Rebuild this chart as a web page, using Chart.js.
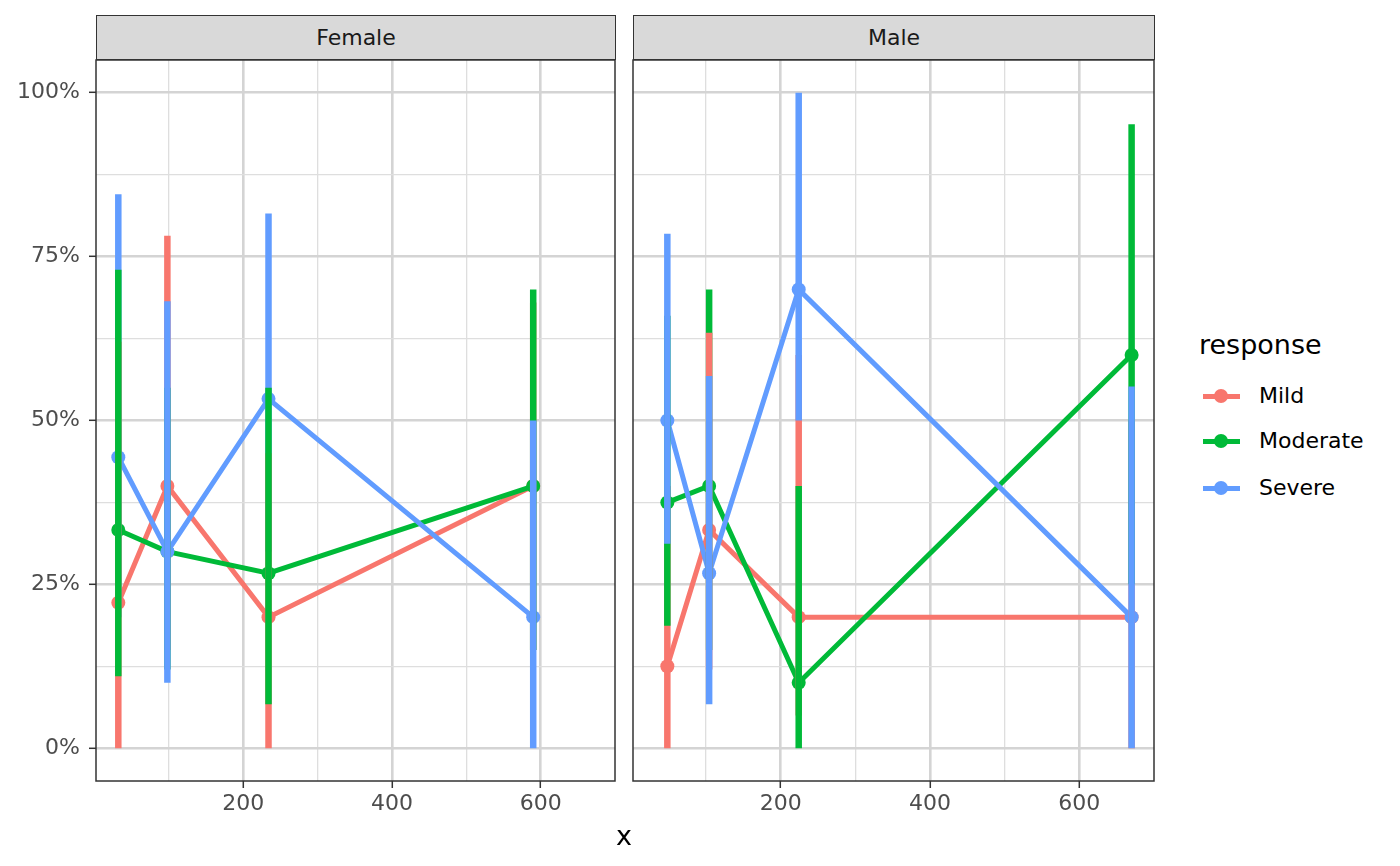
<!DOCTYPE html>
<html>
<head>
<meta charset="utf-8">
<script src="https://cdn.jsdelivr.net/npm/chart.js@4.4.1/dist/chart.umd.min.js"></script>
<style>
  body { margin: 0; background: #fff; font-family: "DejaVu Sans", sans-serif; }
  #wrap { position: relative; width: 1400px; height: 866px; overflow: hidden; }
  canvas { position: absolute; top: 0; }
  .strip { position: absolute; top: 15px; height: 45px; line-height: 44px; background: #d9d9d9;
    border: 1.5px solid #333; box-sizing: border-box; text-align: center; font-size: 22px; color: #1a1a1a; }
  .abs { position: absolute; white-space: nowrap; }
</style>
</head>
<body>
<div id="wrap">
  <canvas id="female" width="625" height="866" style="left:0px"></canvas>
  <canvas id="male" width="540" height="866" style="left:625px"></canvas>
  <div class="strip" style="left:96px; width:520px;">Female</div>
  <div class="strip" style="left:633px; width:522px;">Male</div>
  <div class="abs" style="left:604px; width:40px; text-align:center; top:818px; font-size:27px; line-height:36px; color:#000;">x</div>
  <div id="legend"></div>
</div>
<script>
// groups
const seriesNames = ["Mild", "Moderate", "Severe"];
const seriesColors = ["#F8766D", "#00BA38", "#619CFF"];

// Female facet
const femaleX = [32, 98, 234, 590];
const femaleMild = [22.2, 40, 20, 40];
const femaleModerate = [33.3, 30, 26.7, 40];
const femaleSevere = [44.4, 30, 53.3, 20];
const femaleMildLo = [0, 15, 0, 15];
const femaleMildHi = [62, 78.2, 45, 68];
const femaleModerateLo = [11, 12, 6.7, 15];
const femaleModerateHi = [73, 55, 55, 70];
const femaleSevereLo = [20, 10, 30, 0];
const femaleSevereHi = [84.5, 68.2, 81.6, 50];
// which range is drawn over which (bottom -> top) at each x
const femaleBarOrder = [
  ["Severe", "Mild", "Moderate"],
  ["Mild", "Moderate", "Severe"],
  ["Severe", "Mild", "Moderate"],
  ["Mild", "Moderate", "Severe"]
];

// Male facet
const maleX = [48, 104, 224, 670];
const maleMild = [12.5, 33.3, 20, 20];
const maleModerate = [37.5, 40, 10, 60];
const maleSevere = [50, 26.7, 70, 20];
const maleMildLo = [0, 12, 5, 0];
const maleMildHi = [40, 63.4, 60, 50];
const maleModerateLo = [18.7, 15, 0, 25];
const maleModerateHi = [66, 70, 40, 95.2];
const maleSevereLo = [31.2, 6.7, 50, 0];
const maleSevereHi = [78.5, 56.8, 100, 55.2];
const maleBarOrder = [
  ["Mild", "Moderate", "Severe"],
  ["Moderate", "Mild", "Severe"],
  ["Mild", "Moderate", "Severe"],
  ["Mild", "Moderate", "Severe"]
];

// axes
const xTickValues = [100, 200, 300, 400, 500, 600];
const yTickValues = [0, 12.5, 25, 37.5, 50, 62.5, 75, 87.5, 100];

const majorGrid = "#d4d4d4";
const minorGrid = "#dedede";
const tickFont = { family: "DejaVu Sans", size: 22 };

const panelBorder = {
  id: "panelBorder",
  afterDraw(chart) {
    const a = chart.chartArea;
    const c = chart.ctx;
    c.save();
    c.strokeStyle = "#333";
    c.lineWidth = 1.5;
    c.strokeRect(a.left, a.top, a.right - a.left, a.bottom - a.top);
    c.restore();
  }
};

function makeFacet(id, xs, means, lows, highs, barOrder, isLeft) {
  const datasets = [];
  seriesNames.forEach((name, s) => {
    datasets.push({
      label: name,
      data: xs.map((x, i) => ({ x: x, y: means[s][i] })),
      showLine: true,
      borderColor: seriesColors[s],
      backgroundColor: seriesColors[s],
      borderWidth: 5,
      pointRadius: 7,
      pointBorderWidth: 0,
      pointHoverRadius: 7,
      order: 100 - s
    });
  });
  let ord = 50;
  xs.forEach((x, i) => {
    barOrder[i].forEach(name => {
      const s = seriesNames.indexOf(name);
      datasets.push({
        label: name + " range",
        data: [{ x: x, y: lows[s][i] }, { x: x, y: highs[s][i] }],
        showLine: true,
        borderColor: seriesColors[s],
        borderWidth: 6.5,
        borderCapStyle: "butt",
        pointRadius: 0,
        order: ord--
      });
    });
  });

  const isMajorY = v => v % 25 === 0;
  const isMajorX = v => v % 200 === 0;

  return new Chart(document.getElementById(id).getContext("2d"), {
    type: "scatter",
    data: { datasets: datasets },
    plugins: [panelBorder],
    options: {
      responsive: false,
      animation: false,
      events: [],
      layout: { padding: isLeft ? { left: 0, right: 10, top: 60, bottom: 45 } : { left: 8, right: 11, top: 60, bottom: 45 } },
      plugins: { legend: { display: false }, tooltip: { enabled: false } },
      scales: {
        x: {
          type: "linear",
          min: 2,
          max: 700,
          afterBuildTicks: sc => { sc.ticks = xTickValues.map(v => ({ value: v })); },
          afterFit: sc => { sc.height = 40; },
          border: { display: false },
          grid: {
            color: ctx => (ctx.tick && isMajorX(ctx.tick.value)) ? majorGrid : minorGrid,
            lineWidth: ctx => (ctx.tick && isMajorX(ctx.tick.value)) ? 2.6 : 1.3,
            tickLength: 7,
            tickWidth: 1.5,
            tickColor: ctx => (ctx.tick && isMajorX(ctx.tick.value)) ? "#333" : "rgba(0,0,0,0)"
          },
          ticks: {
            autoSkip: false,
            maxRotation: 0,
            padding: 3,
            color: "#4d4d4d",
            font: tickFont,
            callback: v => isMajorX(v) ? String(v) : ""
          }
        },
        y: {
          type: "linear",
          min: -5,
          max: 105,
          afterBuildTicks: sc => { sc.ticks = yTickValues.map(v => ({ value: v })); },
          afterFit: sc => { sc.width = isLeft ? 96 : 0; },
          border: { display: false },
          grid: {
            color: ctx => (ctx.tick && isMajorY(ctx.tick.value)) ? majorGrid : minorGrid,
            lineWidth: ctx => (ctx.tick && isMajorY(ctx.tick.value)) ? 2.6 : 1.3,
            drawTicks: isLeft,
            tickLength: 7,
            tickWidth: 1.5,
            tickColor: ctx => (ctx.tick && isMajorY(ctx.tick.value)) ? "#333" : "rgba(0,0,0,0)"
          },
          ticks: {
            display: isLeft,
            autoSkip: false,
            padding: 9,
            color: "#4d4d4d",
            font: tickFont,
            callback: v => isMajorY(v) ? v + "%" : ""
          }
        }
      }
    }
  });
}

makeFacet("female", femaleX,
  [femaleMild, femaleModerate, femaleSevere],
  [femaleMildLo, femaleModerateLo, femaleSevereLo],
  [femaleMildHi, femaleModerateHi, femaleSevereHi],
  femaleBarOrder, true);

makeFacet("male", maleX,
  [maleMild, maleModerate, maleSevere],
  [maleMildLo, maleModerateLo, maleSevereLo],
  [maleMildHi, maleModerateHi, maleSevereHi],
  maleBarOrder, false);

// legend
const legend = document.getElementById("legend");
let html = '<div class="abs" style="left:1199px; top:327px; font-size:27px; line-height:36px; color:#000;">response</div>';
const legendY = [396, 441, 488];
seriesNames.forEach((name, s) => {
  const cy = legendY[s];
  html += '<div class="abs" style="left:1203px; top:' + (cy - 2.5) + 'px; width:37px; height:5px; background:' + seriesColors[s] + ';"></div>';
  html += '<div class="abs" style="left:1214px; top:' + (cy - 7) + 'px; width:14px; height:14px; border-radius:50%; background:' + seriesColors[s] + ';"></div>';
  html += '<div class="abs" style="left:1259px; top:' + (cy - 15) + 'px; font-size:22px; line-height:30px; color:#000;">' + name + '</div>';
});
legend.innerHTML = html;
</script>
</body>
</html>
